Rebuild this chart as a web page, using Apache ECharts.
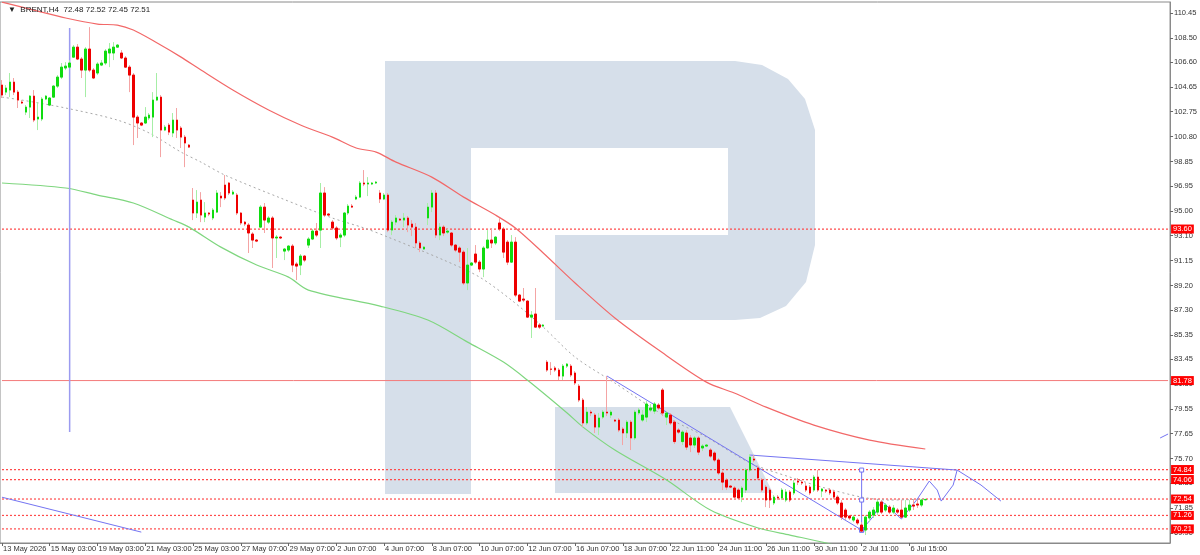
<!DOCTYPE html>
<html><head><meta charset="utf-8">
<script src="https://cdn.jsdelivr.net/npm/echarts@6/dist/echarts.min.js"></script>
<style>html,body{margin:0;padding:0;background:#fff}#c{width:1200px;height:555px}</style>
</head><body><div id="c"></div>
<script>
// ---- data ----
const symbolName = 'BRENT,H4';
const labelIdx = [0,12,24,36,48,60,72,84,96,108,120,132,144,156,168,180,192,204,216,228];
const labelText = ['13 May 2026','15 May 03:00','19 May 03:00','21 May 03:00','25 May 03:00','27 May 07:00','29 May 07:00','2 Jun 07:00','4 Jun 07:00','8 Jun 07:00','10 Jun 07:00','12 Jun 07:00','16 Jun 07:00','18 Jun 07:00','22 Jun 11:00','24 Jun 11:00','26 Jun 11:00','30 Jun 11:00','2 Jul 11:00','6 Jul 15:00'];
const yTicks = [110.45,108.50,106.60,104.65,102.75,100.80,98.85,96.95,95.00,93.10,91.15,89.20,87.30,85.35,83.45,81.50,79.55,77.65,75.70,73.80,71.85,69.90];
const levels = [93.60, 81.78, 74.84, 74.06, 72.54, 71.26, 70.21];
const solidLevels = [81.78];
// candles: [open, close, low, high]
const ohlc = [
[104.83,104.05,103.82,105.22],[104.28,104.60,104.05,104.83],[104.44,105.06,103.89,105.77],[105.06,104.28,104.05,105.38],
[104.28,103.66,103.04,104.44],[103.50,103.43,103.35,103.66],[102.72,103.11,102.49,103.27],[103.11,103.97,102.26,104.05],
[103.97,102.10,101.94,104.44],[102.18,102.33,101.32,103.50],[102.18,103.74,102.02,103.89],[103.74,103.97,103.66,104.05],
[103.27,103.82,103.19,103.89],[103.89,104.75,103.82,104.83],[104.75,105.45,104.60,105.61],[105.45,106.23,105.30,106.55],
[106.16,106.31,106.00,106.62],[106.23,106.55,106.16,106.78],[107.01,107.79,106.94,107.95],[107.79,106.86,106.78,108.03],
[106.86,106.00,105.38,107.01],[106.00,107.64,103.89,107.79],[107.64,106.00,105.84,109.35],[106.00,105.38,105.30,106.16],
[105.77,106.47,105.61,106.62],[106.39,106.55,106.31,106.78],[106.55,107.48,106.39,107.64],[107.33,107.64,106.23,108.11],
[107.33,107.79,106.78,108.18],[107.79,107.95,107.72,108.03],[107.33,106.94,106.86,107.56],[106.94,106.23,106.16,107.09],
[106.23,105.61,104.28,106.39],[105.61,102.33,100.15,105.77],[102.33,101.87,100.70,102.49],[101.87,101.71,101.63,101.94],
[101.87,102.33,101.79,103.11],[102.26,102.49,102.10,102.65],[102.33,103.66,100.77,104.28],[103.66,103.89,103.58,105.77],
[103.89,101.32,99.21,104.05],[101.32,101.55,101.24,101.71],[101.71,101.16,100.93,101.87],[101.09,102.10,100.77,102.65],
[102.10,101.32,100.70,103.04],[101.48,100.77,99.92,101.63],[100.77,100.31,98.43,100.93],[100.15,99.99,99.92,100.23],
[95.86,94.85,94.30,96.80],[94.85,95.70,94.46,96.64],[95.86,94.69,94.14,96.48],[94.53,94.85,94.14,95.70],
[94.85,94.77,94.61,94.92],[94.46,95.08,94.30,95.24],[94.92,96.41,94.85,96.64],[96.17,96.02,95.31,96.48],
[97.03,96.02,95.86,97.81],[97.19,96.41,96.25,97.26],[96.33,96.48,96.25,96.64],[96.25,94.85,94.69,96.41],
[94.85,94.07,93.91,94.92],[94.14,93.99,93.83,94.22],[93.91,93.29,91.73,94.07],[93.21,92.74,92.12,93.36],
[92.74,92.66,92.58,92.82],[93.75,95.31,93.68,95.47],[95.31,94.30,93.29,95.63],[94.14,94.46,93.99,94.61],
[94.46,92.90,90.56,94.61],[92.90,92.97,91.34,93.13],[92.97,92.90,92.82,93.05],[91.88,92.04,91.18,92.12],
[91.96,92.27,91.80,92.35],[92.27,90.79,90.24,92.43],[90.87,90.71,89.62,91.02],[90.79,91.49,90.01,91.65],
[91.49,91.18,91.02,91.57],[92.35,92.82,92.12,92.97],[92.82,93.44,92.74,93.60],[93.44,93.13,92.97,94.07],
[93.52,96.41,92.12,97.19],[96.41,94.69,94.53,96.87],[94.77,94.69,94.61,94.85],[94.14,93.68,93.52,94.30],
[93.68,92.90,92.74,93.83],[92.97,93.13,92.19,93.29],[93.13,94.85,92.97,94.92],[94.85,95.39,94.69,95.55],
[95.39,95.31,95.24,95.55],[95.94,96.09,95.86,96.25],[96.09,97.19,96.02,97.34],[97.19,97.11,96.95,98.20],
[97.11,97.19,96.17,97.65],[97.11,97.19,97.03,97.26],[97.19,97.26,97.11,97.34],[96.41,95.94,95.63,96.64],
[95.94,96.25,95.86,96.41],[96.25,93.52,93.36,96.41],[93.52,94.14,93.13,94.30],[94.14,94.46,93.91,94.69],
[94.38,94.30,94.22,94.46],[94.30,94.46,93.75,94.85],[94.46,93.91,93.36,94.61],[93.99,93.75,93.05,94.30],
[93.75,92.51,92.12,94.07],[92.51,92.12,91.80,92.66],[92.04,92.19,91.96,92.27],[94.46,95.31,93.91,95.63],
[95.31,96.41,94.92,96.64],[96.41,93.13,92.90,96.64],[93.13,93.75,92.74,94.07],[93.75,93.29,93.05,93.91],
[93.36,93.44,93.21,93.60],[93.29,92.35,92.19,93.36],[92.35,91.96,91.80,92.43],[92.12,91.80,91.02,92.27],
[91.80,89.39,89.23,91.96],[89.39,90.79,88.84,92.12],[90.79,90.95,90.71,91.02],[91.65,91.02,90.87,92.35],
[91.02,90.48,90.24,91.18],[90.48,92.12,89.85,92.27],[92.12,92.74,92.12,93.52],[92.74,92.51,92.12,93.68],
[92.51,92.97,92.35,93.05],[94.07,93.60,93.44,94.46],[93.60,91.80,91.34,93.75],[92.58,91.02,90.79,92.74],
[91.02,92.58,90.95,93.13],[92.58,88.45,88.29,92.97],[88.45,87.98,87.90,88.53],[88.14,88.06,87.90,89.00],
[87.98,86.73,86.66,88.06],[86.73,86.89,85.10,87.20],[86.97,85.95,85.88,89.00],[86.11,85.95,85.80,86.27],
[86.03,86.11,85.95,86.19],[83.22,82.60,82.46,83.38],[82.68,82.66,82.21,83.22],[82.76,82.60,82.46,82.91],
[82.60,82.13,81.82,82.76],[82.13,82.91,81.82,83.07],[82.91,83.07,82.76,83.15],[82.91,82.21,82.05,83.07],
[82.37,81.59,81.43,82.52],[81.35,80.26,80.10,81.51],[80.26,78.47,78.15,80.42],[78.47,79.32,78.31,79.71],
[79.32,79.25,79.01,79.48],[79.09,78.15,77.69,79.25],[78.15,78.86,77.53,79.25],[78.93,79.32,78.78,79.48],
[79.32,79.25,79.01,82.13],[79.09,79.32,78.86,79.48],[78.70,78.62,78.54,78.78],[78.70,77.92,77.76,78.86],
[78.00,77.69,76.75,78.15],[77.69,78.54,77.30,78.70],[78.54,77.30,76.36,78.70],[77.30,79.32,77.14,79.48],
[79.25,79.48,79.09,79.64],[78.70,79.09,78.54,79.48],[78.93,79.95,78.54,80.18],[79.48,79.64,79.32,79.95],
[79.40,79.95,79.17,80.10],[79.87,79.64,79.48,80.03],[81.04,79.25,79.01,81.20],[78.93,79.25,78.31,79.40],
[79.09,78.47,78.31,79.25],[78.54,77.02,76.83,78.70],[77.92,77.76,77.61,78.08],[77.02,77.76,76.75,77.92],
[77.69,76.59,76.36,77.92],[77.30,76.75,76.20,77.53],[76.75,77.30,76.52,77.45],[77.30,76.20,75.97,77.45],
[76.52,76.67,76.28,76.83],[76.67,76.75,76.59,76.83],[76.36,75.89,75.74,76.52],[76.13,75.58,75.42,76.28],
[75.58,74.57,74.41,75.74],[74.57,73.86,73.24,74.72],[74.02,73.47,73.24,74.18],[73.55,73.47,73.40,73.63],
[73.40,72.69,72.54,73.55],[73.24,72.62,72.46,73.40],[72.69,73.40,72.30,73.55],[73.24,74.80,73.01,74.96],
[74.80,75.81,74.64,76.05],[75.66,75.58,75.42,75.97],[74.96,74.18,74.02,75.11],[74.02,73.24,73.09,74.18],
[73.47,72.46,71.91,73.63],[73.24,72.46,71.84,73.40],[72.23,72.69,72.07,72.85],[72.69,72.62,72.46,72.85],
[72.62,73.24,72.46,73.40],[72.46,73.09,72.30,73.32],[73.09,72.46,72.30,73.24],[73.01,73.79,72.85,74.02],
[73.94,73.86,73.63,74.18],[73.86,73.79,73.63,74.02],[73.55,73.24,73.09,73.79],[73.47,73.01,72.85,73.63],
[73.24,74.25,73.09,74.41],[74.25,73.24,73.09,74.80],[73.16,73.32,72.69,73.40],[73.24,73.16,73.01,73.32],
[73.24,73.01,72.85,73.40],[73.09,72.69,72.54,73.24],[72.69,72.23,72.07,72.85],[72.23,71.13,70.90,72.46],
[71.68,71.13,70.90,71.84],[71.21,71.06,70.90,71.29],[70.90,71.13,70.74,71.29],[70.90,70.67,70.51,71.06],
[70.51,70.04,69.96,70.74],[70.12,71.13,69.73,71.29],[71.06,71.52,70.74,71.68],[71.29,71.68,71.06,71.91],
[71.52,72.30,71.29,72.46],[72.30,71.52,71.37,72.46],[71.68,72.07,71.52,72.23],[71.91,71.52,71.37,72.07],
[71.52,71.84,71.37,72.07],[71.68,71.52,71.37,71.84],[71.68,71.13,71.06,72.46],[71.13,71.84,71.06,72.46],
[71.68,72.07,71.52,72.46],[72.07,71.99,71.68,72.46],[72.15,72.07,71.84,72.46],[72.07,72.46,71.91,72.54],
[72.48,72.51,72.45,72.52]
];
// moving averages / studies as [barIndex, value] key points
const maSlow = [[0,111.30],[8,110.68],[16,110.06],[24,109.59],[29,109.51],[33,109.12],[39,108.11],[45,107.01],[50,106.00],[58,104.44],[67,102.88],[75,101.71],[83,100.77],[89,99.92],[94,99.60],[99,98.82],[108,97.65],[116,96.09],[124,94.69],[129,93.68],[136,91.73],[144,89.39],[154,86.66],[165,84.16],[177,81.66],[184,80.81],[192,79.71],[204,78.31],[218,77.14],[232,76.44]];
const maGreen = [[0,97.19],[16,96.80],[24,96.25],[33,95.63],[43,94.30],[47,93.75],[55,92.19],[64,90.79],[72,89.85],[77,88.84],[95,87.59],[107,86.50],[117,84.78],[126,83.22],[132,81.82],[142,79.25],[146,78.15],[154,76.36],[167,74.02],[178,71.68],[190,70.28],[198,69.73],[206,69.19],[212,68.72]];
const maGrey = [[0,103.89],[5,103.66],[16,103.04],[29,102.10],[37,101.09],[45,99.60],[50,98.82],[56,97.81],[70,96.02],[83,94.46],[91,93.68],[97,92.97],[111,91.18],[120,89.85],[128,88.06],[136,85.95],[144,83.61],[154,81.59],[167,78.93],[177,77.37],[188,75.35],[198,74.25],[206,73.47],[216,72.69],[223,72.46],[232,72.54]];
const vLineA = [[17,109.28],[17,77.76]];
const diagLeft = [[0,72.68],[35,69.96]];
const lowerTrend = [[152,82.14],[184,76.12],[216,70.12]];
const upperTrend = [[188,75.97],[240,74.80]];
const vLineB = [[216,74.80],[216,72.46],[216,70.12]];
const forecast = [[216,70.12],[219,71.21],[221,72.38],[226,70.98],[230,72.54],[233,73.94],[235,73.24],[236,72.38],[239,73.63],[240,74.80],[246,73.63],[251,72.38]];
const farRight = [[291,77.30],[293,77.61]];
const totalBars = 294;

// ---- build ----
const categories = Array.from({length: totalBars}, (_, i) => 'b' + i);
const labelMap = {};
labelIdx.forEach((k, j) => { labelMap[k] = labelText[j]; });
const bodies = ohlc.map(d => [d[0], d[1], Math.min(d[0], d[1]), Math.max(d[0], d[1])]);
const last = ohlc[ohlc.length - 1];
const headText = '▼  ' + symbolName + '  ' + [last[0], last[3], last[2], last[1]].map(v => v.toFixed(2)).join(' ');

const FONT = 'Liberation Sans';
const BLUE = '#7474f2';
function lineSeries(data, color, opts) {
  return Object.assign({
    type: 'line', data: data, showSymbol: false, symbol: 'rect', symbolSize: 4,
    itemStyle: { color: '#fff', borderColor: color, borderWidth: 1 },
    lineStyle: { color: color, width: 1 }, silent: true, z: 4, animation: false, clip: true
  }, opts || {});
}

const levelLines = levels.map(v => {
  const solid = solidLevels.indexOf(v) >= 0;
  return lineSeries([[0, v], [totalBars - 1, v]], solid ? '#f47a7a' : '#ff3c3c', {
    z: 3,
    lineStyle: { color: solid ? '#f47a7a' : '#ff4a4a', width: solid ? 1 : 1.2, type: solid ? 'solid' : [2, 2] },
    endLabel: { show: true, formatter: v.toFixed(2), color: '#fff', backgroundColor: '#ff0000',
      padding: [1, 2, 0, 2], distance: 3, fontSize: 7.5, fontFamily: FONT }
  });
});

const chart = echarts.init(document.getElementById('c'), null, { renderer: 'canvas' });
chart.setOption({
  animation: false,
  backgroundColor: '#ffffff',
  title: { text: headText, left: 3, top: 1, textStyle: { fontSize: 8, fontWeight: 'normal', color: '#222', fontFamily: FONT } },
  graphic: [
    { type: 'polygon', z: 0, silent: true,
      shape: { points: [[385,61],[735,61],[762,65],[788,79],[805,99],[815,130],[815,245],[806,282],[786,306],[760,318],[735,320],[555,320],[555,235],[728,235],[728,148],[471,148],[471,494],[385,494]] },
      style: { fill: '#d6dfea' } },
    { type: 'polygon', z: 0, silent: true,
      shape: { points: [[555,407],[730,407],[773,493],[555,493]] },
      style: { fill: '#d6dfea' } }
  ],
  grid: { left: 0, right: 24, top: 2, bottom: 12, show: true, borderColor: '#8a8a8a', borderWidth: 1, backgroundColor: 'transparent' },
  xAxis: {
    type: 'category', data: categories, boundaryGap: true,
    axisLine: { show: true, lineStyle: { color: '#8a8a8a' } },
    axisTick: { show: true, alignWithLabel: true, length: 3, interval: i => labelMap[i] !== undefined, lineStyle: { color: '#666' } },
    axisLabel: { show: true, interval: i => labelMap[i] !== undefined, formatter: (v, i) => labelMap[i] || '',
      align: 'left', margin: 2, fontSize: 7.5, color: '#333', fontFamily: FONT, padding: [0, 0, 0, 1] },
    splitLine: { show: false }
  },
  yAxis: {
    type: 'value', position: 'right', min: 69.11, max: 111.31, scale: true,
    axisLine: { show: true, lineStyle: { color: '#8a8a8a' } },
    axisTick: { show: true, length: 3, customValues: yTicks, lineStyle: { color: '#666' } },
    axisLabel: { show: true, customValues: yTicks, formatter: v => v.toFixed(2), margin: 4, fontSize: 7.5, color: '#333', fontFamily: FONT },
    splitLine: { show: false }
  },
  series: [
    ...levelLines,
    lineSeries(maSlow, '#f26868', { smooth: 0.3, lineStyle: { color: '#f26868', width: 1.2 } }),
    lineSeries(maGreen, '#7fd67f', { smooth: 0.3, lineStyle: { color: '#7fd67f', width: 1.2 } }),
    lineSeries(maGrey, '#a8a8a8', { smooth: 0.3, lineStyle: { color: '#a8a8a8', width: 1, type: [2, 3] } }),
    {
      type: 'candlestick', name: 'wick', data: ohlc, barWidth: 2, z: 5, silent: true,
      itemStyle: { color: '#a6eea6', color0: '#f4a4a4', borderColor: '#a6eea6', borderColor0: '#f4a4a4', borderWidth: 1 }
    },
    {
      type: 'candlestick', name: 'body', data: bodies, barWidth: 2, z: 6, silent: true,
      itemStyle: { color: '#10dc10', color0: '#ee0000', borderColor: '#10dc10', borderColor0: '#ee0000', borderWidth: 1 }
    },
    lineSeries(vLineA, '#9b9bf0', { lineStyle: { color: '#9b9bf0', width: 1.5 } }),
    lineSeries(diagLeft, BLUE),
    lineSeries(lowerTrend, BLUE, { showSymbol: true }),
    lineSeries(upperTrend, BLUE),
    lineSeries(vLineB, BLUE, { showSymbol: true }),
    lineSeries(forecast, BLUE, { showSymbol: true }),
    lineSeries(farRight, BLUE)
  ]
});
</script></body></html>
